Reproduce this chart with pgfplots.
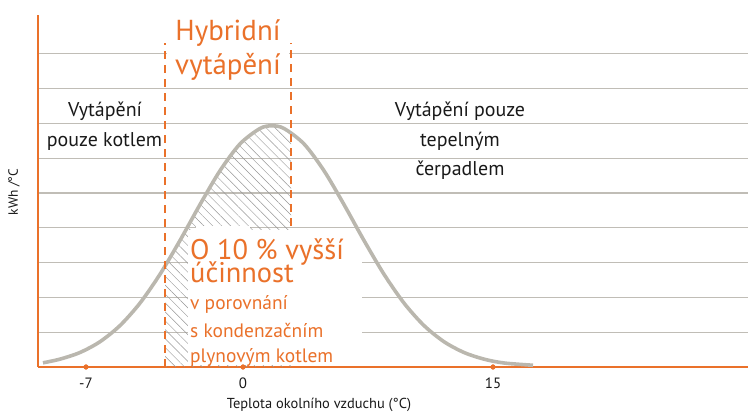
\documentclass[border=0pt]{standalone}
\usepackage{fontspec}
\setmainfont{PT Sans}
\usepackage{pgfplots}
\pgfplotsset{compat=1.18}
\usetikzlibrary{patterns.meta}
\definecolor{tor}{RGB}{234,113,42}
\definecolor{tgrid}{RGB}{192,189,182}
\definecolor{tcurve}{RGB}{186,183,174}
\definecolor{thatch}{RGB}{150,150,150}
\definecolor{ttext}{RGB}{25,25,25}
\begin{document}
\begin{tikzpicture}
\begin{axis}[
  scale only axis, width=710bp, height=352bp,
  xmin=38, xmax=748, ymin=0, ymax=10.115,
  clip=false,
  axis x line=bottom, axis y line=left,
  axis line style={-, draw=tor, line width=1.6bp},
  xtick={86,243,493}, xticklabels={-7,0,15},
  ytick={1,2,3,4,5,6,7,8,9}, yticklabels={},
  major tick length=0pt,
  ymajorgrids, grid style={draw=tgrid, line width=1.3bp},
  xticklabel style={font=\fontsize{15}{17}\selectfont, text=ttext, anchor=base, yshift=-21bp},
]
% hatched region (hybrid heating)
\addplot[draw=none, pattern={Lines[angle=-45, distance=6.3bp, line width=0.45bp]}, pattern color=thatch]
  coordinates {(165,0) (165,2.896) (180,3.636) (200,4.668) (220,5.640) (240,6.410) (260,6.854) (272,6.93) (284,6.854) (291,6.742) (291,0)} -- cycle;
% white boxes behind texts
\fill[white] (axis cs:188,0.05) rectangle (axis cs:362,3.94);
\fill[white] (axis cs:196,3.87) rectangle (axis cs:250,4.06);
\fill[white] (axis cs:167,8.85) rectangle (axis cs:289,9.2);
% bell curve
\addplot[smooth, tcurve, line width=3.6bp] coordinates {
 (43,0.12) (60,0.226) (80,0.417) (100,0.727) (120,1.191) (140,1.837) (160,2.665)
 (180,3.636) (200,4.668) (220,5.640) (240,6.410) (260,6.854) (272,6.93)
 (284,6.854) (304,6.410) (324,5.640) (344,4.668) (364,3.636) (384,2.665)
 (404,1.837) (424,1.191) (444,0.727) (464,0.417) (484,0.226) (504,0.115) (533,0.05)};
% dashed boundaries
\draw[tor, line width=1.6bp, dash pattern=on 8bp off 6bp] (axis cs:165,0) -- (axis cs:165,9.31);
\draw[tor, line width=1.6bp, dash pattern=on 8bp off 6bp] (axis cs:291,4.05) -- (axis cs:291,9.31);
% dots on x axis
\addplot[only marks, mark=*, mark size=2.4bp, tor] coordinates {(86,0) (243,0) (493,0)};
% texts
\node[anchor=base, text=tor, font=\fontsize{29}{32}\selectfont] at (axis cs:228,9.368) {Hybridní};
\node[anchor=base, text=tor, font=\fontsize{29}{32}\selectfont] at (axis cs:228,8.391) {vytápění};
\node[anchor=base, text=ttext, font=\fontsize{20}{22}\selectfont] at (axis cs:105,7.184) {Vytápění};
\node[anchor=base, text=ttext, font=\fontsize{20}{22}\selectfont] at (axis cs:104.5,6.322) {pouze kotlem};
\node[anchor=base, text=ttext, font=\fontsize{20}{22}\selectfont] at (axis cs:460,7.184) {Vytápění pouze};
\node[anchor=base, text=ttext, font=\fontsize{20}{22}\selectfont] at (axis cs:460,6.322) {tepelným};
\node[anchor=base, text=ttext, font=\fontsize{20}{22}\selectfont] at (axis cs:460,5.517) {čerpadlem};
\node[anchor=base west, inner sep=0pt, text=tor, font=\fontsize{28.5}{31}\selectfont] at (axis cs:190,3.103) {O 10 \% vyšší};
\node[anchor=base west, inner sep=0pt, text=tor, font=\fontsize{28.5}{31}\selectfont] at (axis cs:190,2.414) {účinnost};
\node[anchor=base west, inner sep=0pt, text=tor, font=\fontsize{19.5}{21}\selectfont] at (axis cs:190,1.638) {v porovnání};
\node[anchor=base west, inner sep=0pt, text=tor, font=\fontsize{19.5}{21}\selectfont] at (axis cs:190,0.862) {s kondenzačním};
\node[anchor=base west, inner sep=0pt, text=tor, font=\fontsize{19.5}{21}\selectfont] at (axis cs:190,0.115) {plynovým kotlem};
% axis labels
\node[anchor=base, text=ttext, font=\fontsize{14.5}{16}\selectfont] at ([yshift=-41bp]axis cs:319,0) {Teplota okolního vzduchu (°C)};
\node[rotate=90, anchor=center, text=ttext, font=\fontsize{13.5}{15}\selectfont] at ([xshift=-24bp]axis description cs:0,0.497) {kWh /°C};
\end{axis}
\pgfresetboundingbox
\path[use as bounding box] (-38bp,-47bp) rectangle (712bp,367bp);
\end{tikzpicture}
\end{document}
